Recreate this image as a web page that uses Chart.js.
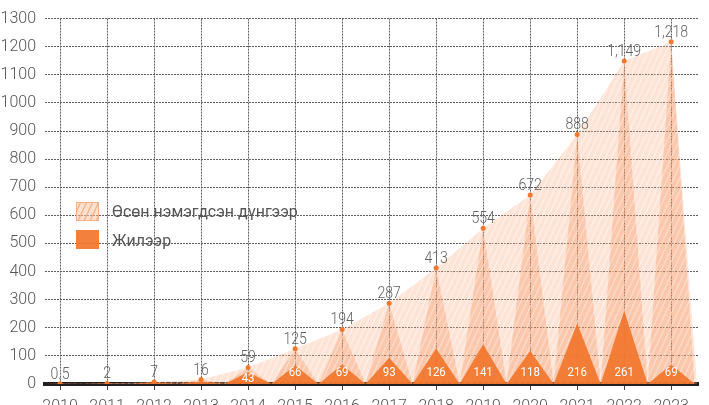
<!DOCTYPE html>
<html>
<head>
<meta charset="utf-8">
<script src="https://cdn.jsdelivr.net/npm/chart.js@4"></script>
<style>
  html, body { margin: 0; padding: 0; overflow: hidden; background: #fff; }
  #wrap { width: 709px; height: 426px; position: relative; }
</style>
</head>
<body>
<div id="wrap"><canvas id="chart"></canvas></div>
<script>
// data
const years = [2010, 2011, 2012, 2013, 2014, 2015, 2016, 2017, 2018, 2019, 2020, 2021, 2022, 2023];
const yearly = [0.5, 1.5, 5, 9, 43, 66, 69, 93, 126, 141, 118, 216, 261, 69];
const cumulative = [0.5, 2, 7, 16, 59, 125, 194, 287, 413, 554, 672, 888, 1149, 1218];
const cumulativeLabels = ['0.5', '2', '7', '16', '59', '125', '194', '287', '413', '554', '672', '888', '1,149', '1,218'];
const yearlyLabels = ['', '', '', '', '43', '66', '69', '93', '126', '141', '118', '216', '261', '69'];
const legendNames = ['Өсөн нэмэгдсэн дүнгээр', 'Жилээр'];

const orange = 'rgba(242,118,45,0.92)';

function hatch(bg, line, w, h) {
  const c = document.createElement('canvas');
  c.width = w; c.height = h;
  const g = c.getContext('2d');
  g.fillStyle = bg;
  g.fillRect(0, 0, w, h);
  g.strokeStyle = line;
  g.lineWidth = 1.2;
  g.beginPath();
  for (let k = -1; k <= 1; k++) {
    g.moveTo(k * w, h);
    g.lineTo(k * w + w, 0);
  }
  g.stroke();
  return g.createPattern(c, 'repeat');
}

const envFill = hatch('rgba(248,165,118,0.30)', 'rgba(255,255,255,0.45)', 6, 13);
const spikeFill = hatch('rgba(244,135,75,0.30)', 'rgba(255,255,255,0.25)', 6, 13);
const legendFill = hatch('rgba(250,200,170,0.55)', 'rgba(244,140,80,0.6)', 6, 13);

// spikes: 0 at half years, value at the year
function spikes(vals) {
  const out = [];
  years.forEach((y, i) => {
    out.push({ x: y - 0.5, y: 0 });
    out.push({ x: y, y: vals[i] });
  });
  out.push({ x: years[years.length - 1] + 0.5, y: 0 });
  return out;
}

const envelope = years.map((y, i) => ({ x: y, y: cumulative[i] }));
envelope.push({ x: years[years.length - 1] + 0.55, y: 0 });

const labelsPlugin = {
  id: 'labels',
  afterDatasetsDraw(chart) {
    const { ctx, scales: { x, y }, chartArea } = chart;
    ctx.save();
    ctx.textAlign = 'center';
    // cumulative labels
    ctx.font = '300 16px Roboto';
    ctx.fillStyle = '#626262';
    ctx.textBaseline = 'alphabetic';
    years.forEach((yr, i) => {
      const px = x.getPixelForValue(yr);
      const py = y.getPixelForValue(cumulative[i]);
      ctx.save();
      ctx.translate(px, py - 5);
      ctx.scale(0.88, 1);
      ctx.fillText(cumulativeLabels[i], 0, 0);
      ctx.restore();
    });
    // yearly labels
    ctx.font = '400 13px Roboto';
    ctx.fillStyle = '#ffffff';
    ctx.textBaseline = 'middle';
    years.forEach((yr, i) => {
      if (!yearlyLabels[i]) return;
      const px = x.getPixelForValue(yr);
      const peak = y.getPixelForValue(yearly[i]);
      ctx.save();
      ctx.translate(px, Math.max(chartArea.bottom - 11, peak + 7));
      ctx.scale(0.88, 1);
      ctx.fillText(yearlyLabels[i], 0, 0);
      ctx.restore();
    });
    ctx.restore();
  },
  afterDraw(chart) {
    const { ctx } = chart;
    ctx.save();
    // legend
    ctx.fillStyle = legendFill;
    ctx.fillRect(76, 202, 23, 19);
    ctx.strokeStyle = 'rgba(246,170,125,0.9)';
    ctx.lineWidth = 1;
    ctx.strokeRect(76.5, 202.5, 22, 18);
    ctx.fillStyle = orange;
    ctx.fillRect(76, 230, 23, 19);
    ctx.font = '400 16px Roboto';
    ctx.fillStyle = '#555';
    ctx.textBaseline = 'middle';
    ctx.textAlign = 'left';
    ctx.fillText(legendNames[0], 112, 213);
    ctx.fillText(legendNames[1], 112, 242);
    ctx.restore();
  }
};

new Chart(document.getElementById('chart'), {
  type: 'line',
  data: {
    datasets: [
      {
        label: 'points',
        data: years.map((y, i) => ({ x: y, y: cumulative[i] })),
        showLine: false,
        pointRadius: 2.5,
        pointBackgroundColor: '#f4772e',
        pointBorderWidth: 0,
        order: 0
      },
      {
        label: legendNames[1],
        data: spikes(yearly),
        fill: 'origin',
        backgroundColor: orange,
        borderWidth: 0,
        pointRadius: 0,
        tension: 0,
        order: 1
      },
      {
        label: 'spikes',
        data: spikes(cumulative),
        fill: 'origin',
        backgroundColor: spikeFill,
        borderWidth: 0,
        pointRadius: 0,
        tension: 0,
        order: 2
      },
      {
        label: legendNames[0],
        data: envelope,
        fill: 'origin',
        backgroundColor: envFill,
        borderWidth: 0,
        pointRadius: 0,
        tension: 0,
        order: 3
      }
    ]
  },
  options: {
    responsive: true,
    maintainAspectRatio: false,
    animation: false,
    layout: { padding: { top: 14, right: 11, left: 0, bottom: 0 } },
    plugins: { legend: { display: false }, tooltip: { enabled: false } },
    scales: {
      x: {
        type: 'linear',
        min: 2009.68,
        max: 2023.57,
        afterBuildTicks: s => { s.ticks = years.map(v => ({ value: v })); },
        afterFit: s => { s.height = 42; },
        ticks: {
          callback: v => String(v),
          font: { family: 'Roboto', size: 16, weight: 300 },
          color: '#555',
          padding: 7,
          maxRotation: 0,
          autoSkip: false
        },
        grid: { color: '#5e5e5e', lineWidth: 1, tickLength: 6, tickColor: '#444' },
        border: { display: true, color: '#231f20', width: 4, dash: [2, 1] }
      },
      y: {
        min: 0,
        max: 1300,
        afterBuildTicks: s => { const t = []; for (let v = 0; v <= 1300; v += 100) t.push({ value: v }); s.ticks = t; },
        afterFit: s => { s.width = 45; },
        ticks: {
          callback: v => String(v),
          font: { family: 'Roboto', size: 16, weight: 300 },
          color: '#555',
          padding: 9
        },
        grid: { color: '#5e5e5e', lineWidth: 1, drawTicks: false },
        border: { display: false, dash: [2, 1] }
      }
    }
  },
  plugins: [labelsPlugin]
});
</script>
</body>
</html>
